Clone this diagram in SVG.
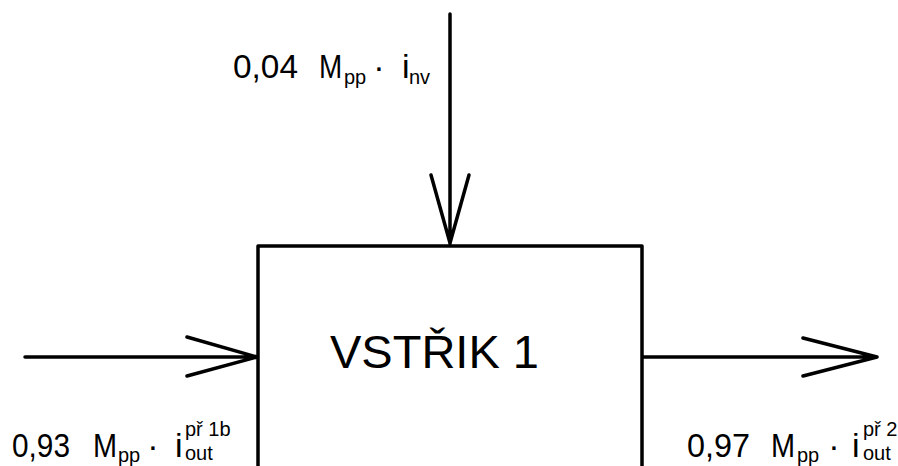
<svg xmlns="http://www.w3.org/2000/svg" width="898" height="466" viewBox="0 0 898 466">
<style>
.ln{fill:none;stroke:#000;stroke-width:3.5;stroke-linecap:round;stroke-linejoin:round}
.big{font-family:"Liberation Sans",Arial,sans-serif;font-size:47px;fill:#000}
.lb{font-family:"Liberation Sans",Arial,sans-serif;font-size:34px;fill:#000}
.sm{font-family:"Liberation Sans",Arial,sans-serif;font-size:20px;fill:#000}
</style>
<rect width="898" height="466" fill="#fff"/>
<g id="node-vstrik">
<path class="ln" d="M258,470 V246 H642 V470"/>
<text class="big" x="330" y="368">VSTŘIK 1</text>
</g>
<g id="connectors">
<path class="ln" d="M450,14 V244 M431,175 L450,243 L469,175"/>
<path class="ln" d="M25,357 H257 M187,337 L257,357 L187,376"/>
<path class="ln" d="M643,357 H877 M803,338 L877,357 L803,376"/>
</g>
<g id="label-top">
<text class="lb" x="233" y="78" textLength="65" lengthAdjust="spacingAndGlyphs">0,04</text>
<text class="lb" transform="translate(319,78) scale(0.82,1)">M</text>
<text class="sm" x="344" y="84">pp</text>
<text class="lb" x="379" y="78" text-anchor="middle">·</text>
<text class="lb" x="402" y="78">i</text>
<text class="sm" x="409" y="84">nv</text>
</g>
<g id="label-left">
<text class="lb" x="12" y="457" textLength="58" lengthAdjust="spacingAndGlyphs">0,93</text>
<text class="lb" transform="translate(93,457) scale(0.85,1)">M</text>
<text class="sm" x="118" y="462">pp</text>
<text class="lb" x="153" y="457" text-anchor="middle">·</text>
<text class="lb" x="175" y="457">i</text>
<text class="sm" x="185" y="436">př 1b</text>
<text class="sm" x="185" y="460">out</text>
</g>
<g id="label-right">
<text class="lb" x="687" y="457" textLength="63" lengthAdjust="spacingAndGlyphs">0,97</text>
<text class="lb" transform="translate(771,457) scale(0.85,1)">M</text>
<text class="sm" x="797" y="462">pp</text>
<text class="lb" x="834" y="457" text-anchor="middle">·</text>
<text class="lb" x="852" y="457">i</text>
<text class="sm" x="863" y="436">př 2</text>
<text class="sm" x="863" y="460">out</text>
</g>
</svg>
